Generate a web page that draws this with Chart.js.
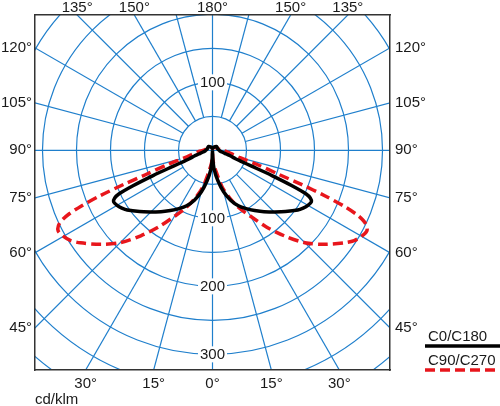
<!DOCTYPE html>
<html>
<head>
<meta charset="utf-8">
<script src="https://cdn.jsdelivr.net/npm/chart.js@4.4.1/dist/chart.umd.min.js"></script>
<style>
  html, body { margin: 0; padding: 0; background: #fff; }
  #wrap { width: 500px; height: 406px; position: relative; }
</style>
</head>
<body>
<div id="wrap"><canvas id="polar"></canvas></div>
<script>
// gamma angle from nadir (deg) and luminous intensity (cd/klm)
var gammaDeg = [0, 2.5, 5, 10, 15, 20, 25, 30, 35, 40, 45, 50, 55, 57.5, 60, 62.5, 64, 65, 66, 67, 68, 69, 70, 72.5, 75, 80, 85, 90, 105, 120, 135, 150, 165, 180];
var c0c180 = [0, 14, 28, 45, 63, 78, 90, 99, 108, 118, 128, 140, 153, 158, 162, 164, 160, 152, 128, 95, 62, 45, 36, 28, 21, 14, 11, 10, 8, 8, 8, 6, 4, 3];
var c90c270 = [5, 12, 20, 33, 57, 75, 94, 112, 137, 164, 192, 215, 237, 247, 253, 256, 252, 245, 232, 210, 178, 140, 105, 68, 42, 28, 20, 14, 9, 7, 6, 5, 4, 3];

var seriesNames = ["C0/C180", "C90/C270"];

// grid rings (cd/klm) and which of them get a number
var ringValues = [50, 100, 150, 200, 250, 300, 350, 400, 450];
var ringLabelsUp = [100];
var ringLabelsDown = [100, 200, 300];
var spokeStep = 15;

// angle labels along the frame (signed: minus = left half)
var topAngles = [-135, -150, 180, 150, 135];
var bottomAngles = [-30, -15, 0, 15, 30];
var sideAngles = [45, 60, 75, 90, 105, 120];

// visible window in cd/klm
var xMax = 261;
var yMax = 199;
var yMin = -323;

var gridColor = "#1f7fcc";
var textColor = "#1a1a1a";
var fontFamily = '"Liberation Sans", Arial, sans-serif';

Chart.defaults.font.family = fontFamily;
Chart.defaults.font.size = 15;
Chart.defaults.color = textColor;

function rad(d) {
  return (d * Math.PI) / 180;
}

// closed outline: C0 half on the right, C180 half mirrored on the left
function outline(values) {
  var pts = [];
  gammaDeg.forEach(function (g, i) {
    pts.push({ x: values[i] * Math.sin(rad(g)), y: -values[i] * Math.cos(rad(g)) });
  });
  for (var i = gammaDeg.length - 2; i >= 0; i--) {
    pts.push({ x: -values[i] * Math.sin(rad(gammaDeg[i])), y: -values[i] * Math.cos(rad(gammaDeg[i])) });
  }
  return pts;
}

var polarGrid = {
  id: "polarGrid",
  beforeDraw: function (chart) {
    var ctx = chart.ctx;
    var area = chart.chartArea;
    var sx = chart.scales.x;
    var sy = chart.scales.y;
    var cx = sx.getPixelForValue(0);
    var cy = sy.getPixelForValue(0);
    var k = (sx.getPixelForValue(100) - cx) / 100;

    ctx.save();
    ctx.beginPath();
    ctx.rect(area.left, area.top, area.width, area.height);
    ctx.clip();
    ctx.strokeStyle = gridColor;
    ctx.lineWidth = 1.2;

    ringValues.forEach(function (r) {
      ctx.beginPath();
      ctx.arc(cx, cy, r * k, 0, Math.PI * 2);
      ctx.stroke();
    });

    for (var a = 0; a < 360; a += spokeStep) {
      var r0 = a % 90 === 0 ? 0 : ringValues[0] * k;
      ctx.beginPath();
      ctx.moveTo(cx + Math.sin(rad(a)) * r0, cy + Math.cos(rad(a)) * r0);
      ctx.lineTo(cx + Math.sin(rad(a)) * 1000, cy + Math.cos(rad(a)) * 1000);
      ctx.stroke();
    }

    ctx.font = "15px " + fontFamily;
    ctx.textAlign = "center";
    ctx.textBaseline = "middle";
    function ringLabel(val, y) {
      var txt = String(val);
      var w = ctx.measureText(txt).width + 4;
      ctx.fillStyle = "#fff";
      ctx.fillRect(cx - w / 2, y - 8, w, 16);
      ctx.fillStyle = textColor;
      ctx.fillText(txt, cx, y + 1);
    }
    ringLabelsUp.forEach(function (v) {
      ringLabel(v, sy.getPixelForValue(v));
    });
    ringLabelsDown.forEach(function (v) {
      ringLabel(v, sy.getPixelForValue(-v));
    });
    ctx.restore();
  }
};

var lineLegend = {
  id: "lineLegend",
  afterDraw: function (chart) {
    var ctx = chart.ctx;
    var x0 = chart.chartArea.right + 35;
    chart.data.datasets.forEach(function (ds, i) {
      var y = 337 + i * 24;
      ctx.save();
      ctx.font = "15px " + fontFamily;
      ctx.fillStyle = textColor;
      ctx.textAlign = "left";
      ctx.textBaseline = "middle";
      ctx.fillText(ds.label, x0 + 3, y);
      ctx.strokeStyle = ds.borderColor;
      ctx.lineWidth = ds.borderWidth;
      ctx.setLineDash(ds.borderDash || []);
      ctx.beginPath();
      ctx.moveTo(x0, y + 9);
      ctx.lineTo(chart.width, y + 9);
      ctx.stroke();
      ctx.restore();
    });
  }
};

var frameBorder = { display: true, color: "#333", width: 1.5 };
var noGrid = { display: false, drawTicks: false };

var ctx = document.getElementById("polar").getContext("2d");
var polarChart = new Chart(ctx, {
  type: "scatter",
  data: {
    datasets: [
      {
        label: seriesNames[0],
        data: outline(c0c180),
        showLine: true,
        borderColor: "#000",
        borderWidth: 3.5,
        borderJoinStyle: "round",
        pointRadius: 0,
        tension: 0.3,
        fill: false
      },
      {
        label: seriesNames[1],
        data: outline(c90c270),
        showLine: true,
        borderColor: "#e8161c",
        borderWidth: 3.5,
        borderDash: [10, 5],
        pointRadius: 0,
        tension: 0.3,
        fill: false
      }
    ]
  },
  options: {
    responsive: true,
    maintainAspectRatio: false,
    animation: false,
    layout: { padding: 0 },
    plugins: { legend: { display: false }, tooltip: { enabled: false } },
    scales: {
      x: {
        type: "linear",
        position: "bottom",
        min: -xMax,
        max: xMax,
        grid: noGrid,
        border: frameBorder,
        afterBuildTicks: function (s) {
          s.ticks = bottomAngles.map(function (a) {
            return { value: -yMin * Math.tan(rad(a)) };
          });
        },
        ticks: {
          autoSkip: false,
          maxRotation: 0,
          padding: 5,
          callback: function (v, i) {
            return Math.abs(bottomAngles[i]) + "°";
          }
        },
        title: { display: true, text: "cd/klm", align: "start", padding: { top: 0, bottom: -3 } },
        afterFit: function (s) {
          s.height = 36;
        }
      },
      x2: {
        type: "linear",
        position: "top",
        min: -xMax,
        max: xMax,
        grid: noGrid,
        border: frameBorder,
        afterBuildTicks: function (s) {
          s.ticks = topAngles.map(function (a) {
            var sign = a < 0 ? -1 : 1;
            return { value: sign * yMax * Math.tan(rad(180 - Math.abs(a))) };
          });
        },
        ticks: {
          autoSkip: false,
          maxRotation: 0,
          padding: -1.5,
          callback: function (v, i) {
            return Math.abs(topAngles[i]) + "°";
          }
        },
        afterFit: function (s) {
          s.height = 15;
        }
      },
      y: {
        type: "linear",
        position: "left",
        min: yMin,
        max: yMax,
        grid: noGrid,
        border: frameBorder,
        afterBuildTicks: function (s) {
          s.ticks = sideAngles.map(function (a) {
            return { value: -xMax * Math.cos(rad(a)) / Math.sin(rad(a)) };
          });
        },
        ticks: {
          autoSkip: false,
          padding: 3,
          callback: function (v, i) {
            return sideAngles[i] + "°";
          }
        },
        afterFit: function (s) {
          s.width = 35;
        }
      },
      y2: {
        type: "linear",
        position: "right",
        min: yMin,
        max: yMax,
        grid: noGrid,
        border: frameBorder,
        afterBuildTicks: function (s) {
          s.ticks = sideAngles.map(function (a) {
            return { value: -xMax * Math.cos(rad(a)) / Math.sin(rad(a)) };
          });
        },
        ticks: {
          autoSkip: false,
          padding: 5,
          callback: function (v, i) {
            return sideAngles[i] + "°";
          }
        },
        afterFit: function (s) {
          s.width = 110;
        }
      }
    }
  },
  plugins: [polarGrid, lineLegend]
});
</script>
</body>
</html>
